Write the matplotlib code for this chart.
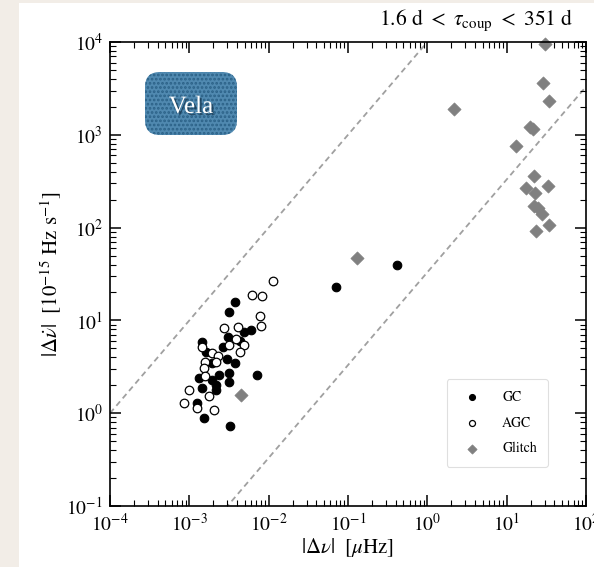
import matplotlib
matplotlib.use("Agg")
import matplotlib.pyplot as plt
import matplotlib.patheffects as pe
from matplotlib.patches import FancyBboxPatch, Rectangle
import numpy as np

# values
GC_DNU = [3.80e-3, 3.13e-3, 4.84e-3, 5.99e-3, 3.05e-3, 4.35e-3, 1.44e-3, 2.63e-3,
          1.61e-3, 2.96e-3, 3.76e-3, 1.91e-3, 2.35e-3, 3.19e-3, 1.34e-3, 1.93e-3,
          3.16e-3, 7.13e-3, 1.43e-3, 2.17e-3, 2.19e-3, 1.24e-3, 1.55e-3, 3.23e-3,
          0.070, 0.415]
GC_DNUDOT = [15.9, 12.3, 7.56, 7.82, 6.58, 6.04, 5.78, 5.17,
             4.6, 3.81, 3.45, 3.50, 2.58, 2.73, 2.41, 2.28,
             2.18, 2.58, 1.88, 2.01, 1.78, 1.28, 0.89, 0.73,
             23.0, 39.8]

AGC_DNU = [1.12e-2, 6.22e-3, 8.31e-3, 7.78e-3, 8.08e-3, 2.71e-3, 4.07e-3, 3.84e-3,
           4.93e-3, 4.35e-3, 3.19e-3, 1.44e-3, 1.91e-3, 2.32e-3, 1.58e-3, 2.17e-3,
           1.55e-3, 1.56e-3, 1.00e-3, 1.77e-3, 8.57e-4, 1.24e-3, 2.03e-3]
AGC_DNUDOT = [26.6, 18.8, 18.5, 11.2, 8.7, 8.34, 8.43, 6.25,
              5.43, 4.60, 5.39, 5.21, 4.42, 4.13, 3.59, 3.59,
              3.09, 2.52, 1.78, 1.55, 1.28, 1.13, 1.08]

GLITCH_DNU = [30.7, 29.0, 34.2, 2.19, 19.7, 21.7, 13.0, 22.3, 17.5, 32.9,
              22.5, 22.3, 25.1, 27.7, 34.5, 23.2, 0.129, 4.43e-3]
GLITCH_DNUDOT = [9500, 3590, 2330, 1880, 1200, 1145, 757, 360, 269, 281,
                 234, 171, 161, 139, 106, 92.7, 46.7, 1.57]

# dashed reference lines: dnudot = c * dnu
LINE_COEFFS = [1.0e4, 33.0]

XLIM = (1e-4, 1e2)
YLIM = (1e-1, 1e4)


def main():
    plt.rcParams["font.family"] = "STIXGeneral"
    plt.rcParams["mathtext.fontset"] = "stix"
    plt.rcParams["hatch.linewidth"] = 1.3

    fig = plt.figure(figsize=(5.94, 5.67), dpi=100)
    fig.patch.set_facecolor("#f2ede7")
    fig.add_artist(Rectangle((19 / 594, 0), 1 - 19 / 594, 1 - 3 / 567,
                             transform=fig.transFigure, facecolor="white",
                             edgecolor="none", zorder=0))

    ax = fig.add_axes([110 / 594, 1 - 506 / 567, 476 / 594, 464 / 567])
    ax.set_xscale("log")
    ax.set_yscale("log")

    xs = np.array(XLIM)
    for c in LINE_COEFFS:
        ax.plot(xs, c * xs, color="#a0a0a0", lw=1.3, dashes=(3.2, 2.2), zorder=1)

    ax.scatter(GC_DNU, GC_DNUDOT, s=38, c="black", edgecolors="black",
               linewidths=0.8, label="GC", zorder=3)
    ax.scatter(AGC_DNU, AGC_DNUDOT, s=38, facecolors="white", edgecolors="black",
               linewidths=0.9, label="AGC", zorder=3)
    ax.scatter(GLITCH_DNU, GLITCH_DNUDOT, s=45, marker="D", c="#808080",
               edgecolors="#808080", linewidths=0.5, label="Glitch", zorder=2,
               clip_on=False)

    ax.set_xlim(*XLIM)
    ax.set_ylim(*YLIM)

    ax.tick_params(which="both", direction="in", top=True, right=True)
    ax.tick_params(which="major", length=8, width=1.1, labelsize=14, pad=5)
    ax.tick_params(which="minor", length=4, width=0.8)
    ax.xaxis.set_major_locator(matplotlib.ticker.LogLocator(base=10, numticks=10))
    ax.xaxis.set_minor_locator(matplotlib.ticker.LogLocator(base=10, subs=np.arange(2, 10), numticks=20))
    for sp in ax.spines.values():
        sp.set_linewidth(1.2)

    ax.set_xlabel(r"$|\Delta\nu|$  [$\mu$Hz]", fontsize=15, labelpad=1)
    ax.set_ylabel(r"$|\Delta\dot{\nu}|$  [$10^{-15}$ Hz s$^{-1}$]", fontsize=15, labelpad=2)

    leg = ax.legend(loc="lower right", bbox_to_anchor=(0.935, 0.07), fontsize=10,
                    markerscale=0.7, frameon=True, fancybox=True, borderpad=0.8,
                    labelspacing=0.9, handletextpad=1.2)
    leg.get_frame().set_edgecolor("#d8d8d8")
    leg.get_frame().set_linewidth(0.8)

    fig.text(573 / 594, 1 - 20 / 567,
             r"$1.6\ \mathrm{d}\ <\ \tau_{\rm coup}\ <\ 351\ \mathrm{d}$",
             ha="right", va="center", fontsize=15.5)

    # "Vela" badge
    badge = dict(boxstyle="round,pad=0,rounding_size=0.15",
                 transform=fig.dpi_scale_trans)
    fig.add_artist(FancyBboxPatch((1.45, 4.32), 0.92, 0.63, facecolor="#5089b0",
                                  edgecolor="none", **badge))
    fig.add_artist(FancyBboxPatch((1.45, 4.32), 0.92, 0.63, facecolor="none",
                                  edgecolor="#2b6187", linewidth=0, hatch="....", **badge))
    fig.text(1.91 / 5.94, 4.60 / 5.67, "Vela", ha="center", va="center",
             fontsize=18, color="white", family="Liberation Serif",
             path_effects=[pe.withSimplePatchShadow(offset=(1.5, -1.5),
                                                    shadow_rgbFace="#15344d", alpha=0.7)])

    fig.savefig("out.png", dpi=100, facecolor=fig.get_facecolor())
    plt.close(fig)


if __name__ == "__main__":
    main()
